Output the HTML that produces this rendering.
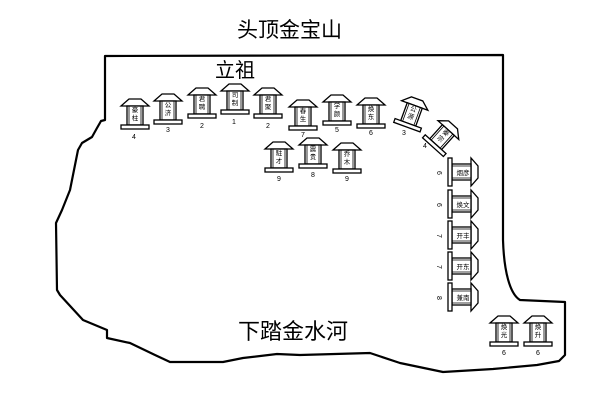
<!DOCTYPE html>
<html><head><meta charset="utf-8"><style>
html,body{margin:0;padding:0;background:#fff;}
svg{display:block;}
text{font-family:"Liberation Sans","Noto Sans CJK SC",sans-serif;fill:#000;}
.st{font-size:6.5px;}
.lb{font-size:7px;}
</style></head><body>
<svg width="608" height="416" viewBox="0 0 608 416" xmlns="http://www.w3.org/2000/svg">
<defs>
<g id="sh">
<polygon points="-6,-15 6,-15 14,-8 -14,-8" fill="#fff" stroke="#000" stroke-width="1.3"/>
<rect x="-8" y="-8" width="16" height="19" fill="#fff" stroke="#000" stroke-width="1.3"/>
<line x1="-6" y1="-8" x2="-6" y2="11" stroke="#000" stroke-width="0.8"/>
<line x1="6" y1="-8" x2="6" y2="11" stroke="#000" stroke-width="0.8"/>
<rect x="-14" y="11" width="28" height="4" fill="#fff" stroke="#000" stroke-width="1.3"/>
</g>
</defs>

<path d="M105,120 L105,56 L503,55 L503,240 C504,272 510,294 520,300 L565,302 L565,355 L559,361 L537,365 L493,369 L443,372 L400,363 L370,353 L300,355 L277,354 L243,358 L223,362 L170,362 L155,355 L130,343 L107,338 L107,330 L83,320 L60,295 L57,290 L56,223 L62,210 L70,190 L78,150 L82,143 L92,137 L97,128 L101,121 Z" fill="none" stroke="#000" stroke-width="2.2" stroke-linejoin="round"/>

<text x="237" y="37" font-size="21">头顶金宝山</text>
<text x="215" y="77" font-size="20">立祖</text>
<text x="238" y="339" font-size="22">下踏金水河</text>

<!-- row 1 -->
<use href="#sh" x="135" y="114"/><text class="st" x="135" y="112" text-anchor="middle">豪</text><text class="st" x="135" y="120" text-anchor="middle">柱</text><text class="lb" x="134" y="139" text-anchor="middle">4</text>
<use href="#sh" x="168" y="109"/><text class="st" x="168" y="107" text-anchor="middle">公</text><text class="st" x="168" y="115" text-anchor="middle">济</text><text class="lb" x="168" y="132" text-anchor="middle">3</text>
<use href="#sh" x="202" y="103"/><text class="st" x="202" y="101" text-anchor="middle">君</text><text class="st" x="202" y="109" text-anchor="middle">聘</text><text class="lb" x="202" y="128" text-anchor="middle">2</text>
<use href="#sh" x="235" y="99"/><text class="st" x="235" y="97" text-anchor="middle">司</text><text class="st" x="235" y="105" text-anchor="middle">制</text><text class="lb" x="234" y="124" text-anchor="middle">1</text>
<use href="#sh" x="268" y="103"/><text class="st" x="268" y="101" text-anchor="middle">君</text><text class="st" x="268" y="109" text-anchor="middle">聚</text><text class="lb" x="268" y="128" text-anchor="middle">2</text>
<use href="#sh" x="303" y="115"/><text class="st" x="303" y="113" text-anchor="middle">春</text><text class="st" x="303" y="121" text-anchor="middle">生</text><text class="lb" x="303" y="137" text-anchor="middle">7</text>
<use href="#sh" x="337" y="110"/><text class="st" x="337" y="108" text-anchor="middle">学</text><text class="st" x="337" y="116" text-anchor="middle">颜</text><text class="lb" x="337" y="132" text-anchor="middle">5</text>
<use href="#sh" x="371" y="113"/><text class="st" x="371" y="111" text-anchor="middle">焕</text><text class="st" x="371" y="119" text-anchor="middle">东</text><text class="lb" x="371" y="135" text-anchor="middle">6</text>

<!-- row 2 -->
<use href="#sh" x="279" y="157"/><text class="st" x="279" y="155" text-anchor="middle">駐</text><text class="st" x="279" y="163" text-anchor="middle">才</text><text class="lb" x="279" y="181" text-anchor="middle">9</text>
<use href="#sh" x="313" y="153"/><text class="st" x="313" y="151" text-anchor="middle">震</text><text class="st" x="313" y="159" text-anchor="middle">贵</text><text class="lb" x="313" y="177" text-anchor="middle">8</text>
<use href="#sh" x="347" y="158"/><text class="st" x="347" y="156" text-anchor="middle">乔</text><text class="st" x="347" y="164" text-anchor="middle">木</text><text class="lb" x="347" y="181" text-anchor="middle">9</text>

<!-- rotated -->
<g transform="translate(412,113) rotate(20)"><use href="#sh"/><text class="st" x="0" y="-2" text-anchor="middle">公</text><text class="st" x="0" y="6" text-anchor="middle">源</text></g>
<text class="lb" x="404" y="135" text-anchor="middle">3</text>
<g transform="translate(443,136) rotate(42)"><use href="#sh"/><text class="st" x="0" y="-2" text-anchor="middle">秦</text><text class="st" x="0" y="6" text-anchor="middle">宗</text></g>
<text class="lb" x="425" y="148" text-anchor="middle">4</text>

<!-- right column -->
<g transform="translate(463,172) rotate(90)"><use href="#sh"/></g><text class="st" x="463" y="175" text-anchor="middle">烟彦</text>
<g transform="translate(463,204) rotate(90)"><use href="#sh"/></g><text class="st" x="463" y="207" text-anchor="middle">焕文</text>
<g transform="translate(463,235) rotate(90)"><use href="#sh"/></g><text class="st" x="463" y="238" text-anchor="middle">开丰</text>
<g transform="translate(463,266) rotate(90)"><use href="#sh"/></g><text class="st" x="463" y="269" text-anchor="middle">开东</text>
<g transform="translate(463,297) rotate(90)"><use href="#sh"/></g><text class="st" x="463" y="300" text-anchor="middle">兼南</text>
<text class="lb" transform="translate(437,173) rotate(90)" text-anchor="middle">6</text>
<text class="lb" transform="translate(437,205) rotate(90)" text-anchor="middle">6</text>
<text class="lb" transform="translate(437,236) rotate(90)" text-anchor="middle">7</text>
<text class="lb" transform="translate(437,267) rotate(90)" text-anchor="middle">7</text>
<text class="lb" transform="translate(437,298) rotate(90)" text-anchor="middle">8</text>

<!-- bottom right -->
<use href="#sh" x="504" y="331"/><text class="st" x="504" y="329" text-anchor="middle">焕</text><text class="st" x="504" y="337" text-anchor="middle">光</text><text class="lb" x="504" y="355" text-anchor="middle">6</text>
<use href="#sh" x="538" y="331"/><text class="st" x="538" y="329" text-anchor="middle">焕</text><text class="st" x="538" y="337" text-anchor="middle">升</text><text class="lb" x="538" y="355" text-anchor="middle">6</text>
</svg>
</body></html>
